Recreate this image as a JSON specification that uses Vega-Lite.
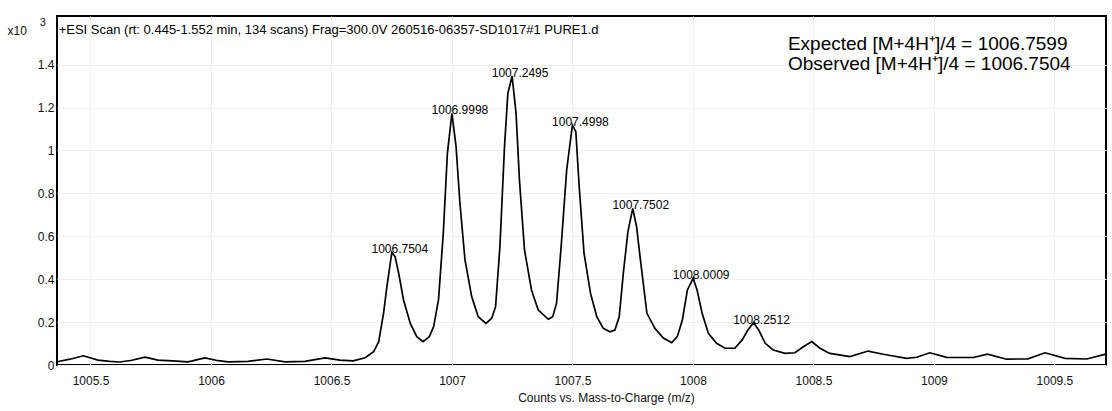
{
  "$schema": "https://vega.github.io/schema/vega-lite/v6.json",
  "width": 1049,
  "height": 349,
  "autosize": {"type": "none"},
  "padding": {"left": 57, "top": 16, "right": 6, "bottom": 46},
  "background": "white",
  "config": {
    "font": "Liberation Sans",
    "view": {"stroke": "black", "strokeWidth": 2},
    "axis": {
      "domain": false,
      "ticks": false,
      "grid": true,
      "gridColor": "#f0f0f0",
      "gridWidth": 1,
      "labelFont": "Liberation Sans",
      "labelFontSize": 12,
      "labelColor": "#111111",
      "titleFont": "Liberation Sans",
      "titleFontSize": 12,
      "titleFontWeight": "normal",
      "titleColor": "#111111"
    }
  },
  "datasets": {
    "profile": [
      {"mz": 1005.361, "counts": 0.015},
      {"mz": 1005.415, "counts": 0.027},
      {"mz": 1005.470, "counts": 0.043},
      {"mz": 1005.531, "counts": 0.023},
      {"mz": 1005.580, "counts": 0.017},
      {"mz": 1005.622, "counts": 0.014},
      {"mz": 1005.672, "counts": 0.022},
      {"mz": 1005.726, "counts": 0.037},
      {"mz": 1005.780, "counts": 0.023},
      {"mz": 1005.840, "counts": 0.019},
      {"mz": 1005.905, "counts": 0.015},
      {"mz": 1005.975, "counts": 0.033},
      {"mz": 1006.030, "counts": 0.020},
      {"mz": 1006.071, "counts": 0.015},
      {"mz": 1006.154, "counts": 0.017},
      {"mz": 1006.232, "counts": 0.028},
      {"mz": 1006.307, "counts": 0.015},
      {"mz": 1006.390, "counts": 0.017},
      {"mz": 1006.473, "counts": 0.033},
      {"mz": 1006.535, "counts": 0.023},
      {"mz": 1006.590, "counts": 0.019},
      {"mz": 1006.640, "counts": 0.034},
      {"mz": 1006.675, "counts": 0.062},
      {"mz": 1006.696, "counts": 0.109},
      {"mz": 1006.716, "counts": 0.241},
      {"mz": 1006.730, "counts": 0.365},
      {"mz": 1006.7504, "counts": 0.525},
      {"mz": 1006.764, "counts": 0.505},
      {"mz": 1006.779, "counts": 0.427},
      {"mz": 1006.799, "counts": 0.303},
      {"mz": 1006.827, "counts": 0.194},
      {"mz": 1006.854, "counts": 0.132},
      {"mz": 1006.880, "counts": 0.109},
      {"mz": 1006.906, "counts": 0.132},
      {"mz": 1006.924, "counts": 0.179},
      {"mz": 1006.944, "counts": 0.303},
      {"mz": 1006.964, "counts": 0.614},
      {"mz": 1006.981, "counts": 0.987},
      {"mz": 1006.9998, "counts": 1.173},
      {"mz": 1007.017, "counts": 1.018},
      {"mz": 1007.033, "counts": 0.754},
      {"mz": 1007.054, "counts": 0.490},
      {"mz": 1007.082, "counts": 0.318},
      {"mz": 1007.109, "counts": 0.225},
      {"mz": 1007.141, "counts": 0.194},
      {"mz": 1007.165, "counts": 0.218},
      {"mz": 1007.181, "counts": 0.272},
      {"mz": 1007.199, "counts": 0.552},
      {"mz": 1007.218, "counts": 1.018},
      {"mz": 1007.232, "counts": 1.267},
      {"mz": 1007.2495, "counts": 1.347},
      {"mz": 1007.266, "counts": 1.173},
      {"mz": 1007.280, "counts": 0.862},
      {"mz": 1007.301, "counts": 0.536},
      {"mz": 1007.330, "counts": 0.350},
      {"mz": 1007.358, "counts": 0.256},
      {"mz": 1007.400, "counts": 0.213},
      {"mz": 1007.418, "counts": 0.225},
      {"mz": 1007.434, "counts": 0.288},
      {"mz": 1007.453, "counts": 0.552},
      {"mz": 1007.476, "counts": 0.909},
      {"mz": 1007.4998, "counts": 1.119},
      {"mz": 1007.514, "counts": 1.088},
      {"mz": 1007.528, "counts": 0.831},
      {"mz": 1007.548, "counts": 0.521},
      {"mz": 1007.575, "counts": 0.334},
      {"mz": 1007.601, "counts": 0.225},
      {"mz": 1007.628, "counts": 0.171},
      {"mz": 1007.656, "counts": 0.155},
      {"mz": 1007.676, "counts": 0.163},
      {"mz": 1007.694, "counts": 0.225},
      {"mz": 1007.711, "counts": 0.427},
      {"mz": 1007.730, "counts": 0.621},
      {"mz": 1007.7502, "counts": 0.730},
      {"mz": 1007.766, "counts": 0.645},
      {"mz": 1007.782, "counts": 0.490},
      {"mz": 1007.809, "counts": 0.241},
      {"mz": 1007.842, "counts": 0.171},
      {"mz": 1007.877, "counts": 0.126},
      {"mz": 1007.912, "counts": 0.104},
      {"mz": 1007.935, "counts": 0.132},
      {"mz": 1007.956, "counts": 0.210},
      {"mz": 1007.977, "counts": 0.350},
      {"mz": 1008.0009, "counts": 0.404},
      {"mz": 1008.017, "counts": 0.350},
      {"mz": 1008.038, "counts": 0.241},
      {"mz": 1008.064, "counts": 0.148},
      {"mz": 1008.098, "counts": 0.101},
      {"mz": 1008.133, "counts": 0.078},
      {"mz": 1008.174, "counts": 0.078},
      {"mz": 1008.204, "counts": 0.117},
      {"mz": 1008.228, "counts": 0.163},
      {"mz": 1008.2512, "counts": 0.197},
      {"mz": 1008.273, "counts": 0.163},
      {"mz": 1008.300, "counts": 0.101},
      {"mz": 1008.333, "counts": 0.070},
      {"mz": 1008.382, "counts": 0.054},
      {"mz": 1008.423, "counts": 0.057},
      {"mz": 1008.458, "counts": 0.085},
      {"mz": 1008.493, "counts": 0.109},
      {"mz": 1008.527, "counts": 0.078},
      {"mz": 1008.568, "counts": 0.054},
      {"mz": 1008.651, "counts": 0.039},
      {"mz": 1008.727, "counts": 0.065},
      {"mz": 1008.790, "counts": 0.050},
      {"mz": 1008.887, "counts": 0.031},
      {"mz": 1008.928, "counts": 0.036},
      {"mz": 1008.983, "counts": 0.057},
      {"mz": 1009.053, "counts": 0.036},
      {"mz": 1009.163, "counts": 0.035},
      {"mz": 1009.222, "counts": 0.051},
      {"mz": 1009.302, "counts": 0.027},
      {"mz": 1009.390, "counts": 0.029},
      {"mz": 1009.461, "counts": 0.057},
      {"mz": 1009.544, "counts": 0.031},
      {"mz": 1009.634, "counts": 0.028},
      {"mz": 1009.714, "counts": 0.051}
    ],
    "peaks": [
      {"mz": 1006.7504, "counts": 0.525},
      {"mz": 1006.9998, "counts": 1.173},
      {"mz": 1007.2495, "counts": 1.347},
      {"mz": 1007.4998, "counts": 1.119},
      {"mz": 1007.7502, "counts": 0.730},
      {"mz": 1008.0009, "counts": 0.404},
      {"mz": 1008.2512, "counts": 0.197}
    ]
  },
  "layer": [
    {
      "data": {"name": "profile"},
      "mark": {"type": "line", "color": "black", "strokeWidth": 1.7, "clip": true, "interpolate": "linear"},
      "encoding": {
        "x": {
          "field": "mz",
          "type": "quantitative",
          "scale": {"domain": [1005.361, 1009.714], "nice": false, "zero": false},
          "axis": {
            "values": [1005.5, 1006, 1006.5, 1007, 1007.5, 1008, 1008.5, 1009, 1009.5],
            "format": "~f",
            "labelPadding": 10,
            "title": "Counts vs. Mass-to-Charge (m/z)",
            "titlePadding": 6,
            "titleX": 549
          }
        },
        "y": {
          "field": "counts",
          "type": "quantitative",
          "scale": {"domain": [0, 1.627], "nice": false},
          "axis": {
            "values": [0, 0.2, 0.4, 0.6, 0.8, 1, 1.2, 1.4],
            "format": "~f",
            "labelPadding": 3,
            "title": "x10",
            "titleAngle": 0,
            "titleAlign": "left",
            "titleBaseline": "middle",
            "titleX": -50,
            "titleY": 14
          }
        }
      }
    },
    {
      "data": {"name": "peaks"},
      "mark": {"type": "text", "align": "center", "baseline": "alphabetic", "dx": 8, "dy": 1, "fontSize": 12, "color": "black"},
      "encoding": {
        "x": {"field": "mz", "type": "quantitative"},
        "y": {"field": "counts", "type": "quantitative"},
        "text": {"field": "mz", "type": "quantitative", "format": ".4f"}
      }
    },
    {
      "data": {"values": [{"note": "3"}]},
      "mark": {"type": "text", "align": "center", "baseline": "middle", "fontSize": 11, "color": "#111111", "clip": false},
      "encoding": {
        "x": {"datum": 1005.302, "type": "quantitative"},
        "y": {"datum": 1.596, "type": "quantitative"},
        "text": {"field": "note", "type": "nominal"}
      }
    },
    {
      "data": {"values": [{"note": "+ESI Scan (rt: 0.445-1.552 min, 134 scans) Frag=300.0V 260516-06357-SD1017#1 PURE1.d"}]},
      "mark": {"type": "text", "align": "left", "baseline": "middle", "fontSize": 13, "color": "black"},
      "encoding": {
        "x": {"datum": 1005.368, "type": "quantitative"},
        "y": {"datum": 1.562, "type": "quantitative"},
        "text": {"field": "note", "type": "nominal"}
      }
    },
    {
      "data": {"values": [{"note": "Expected [M+4H⁺]/4 = 1006.7599"}]},
      "mark": {"type": "text", "align": "left", "baseline": "middle", "fontSize": 19, "color": "black"},
      "encoding": {
        "x": {"datum": 1008.394, "type": "quantitative"},
        "y": {"datum": 1.497, "type": "quantitative"},
        "text": {"field": "note", "type": "nominal"}
      }
    },
    {
      "data": {"values": [{"note": "Observed [M+4H⁺]/4 = 1006.7504"}]},
      "mark": {"type": "text", "align": "left", "baseline": "middle", "fontSize": 19, "color": "black"},
      "encoding": {
        "x": {"datum": 1008.394, "type": "quantitative"},
        "y": {"datum": 1.401, "type": "quantitative"},
        "text": {"field": "note", "type": "nominal"}
      }
    }
  ]
}
